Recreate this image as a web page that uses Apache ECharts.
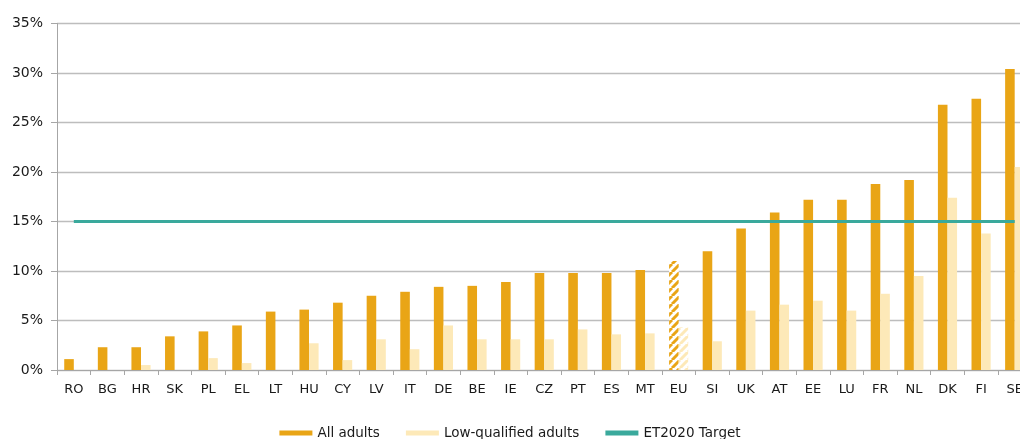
<!DOCTYPE html>
<html>
<head>
<meta charset="utf-8">
<script src="https://cdn.jsdelivr.net/npm/echarts@6/dist/echarts.min.js"></script>
<style>html,body{margin:0;padding:0;background:#fff;overflow:hidden}#c{width:1020px;height:439px}</style>
</head>
<body>
<div id="c"></div>
<script>
const categories = ['RO','BG','HR','SK','PL','EL','LT','HU','CY','LV','IT','DE','BE','IE','CZ','PT','ES','MT','EU','SI','UK','AT','EE','LU','FR','NL','DK','FI','SE'];
const allAdults = [1.1,2.3,2.3,3.4,3.9,4.5,5.9,6.1,6.8,7.5,7.9,8.4,8.5,8.9,9.8,9.8,9.8,10.1,11.0,12.0,14.3,15.9,17.2,17.2,18.8,19.2,26.8,27.4,30.4];
const lowQualified = [null,null,0.5,null,1.2,0.7,null,2.7,1.0,3.1,2.1,4.5,3.1,3.1,3.1,4.1,3.6,3.7,4.3,2.9,6.0,6.6,7.0,6.0,7.7,9.5,17.4,13.8,20.5];
const targetValue = 15;

const ORANGE = '#E9A516';
const LIGHT = '#FDE9B8';
const TEAL = '#3AA99C';

function hatch(color) {
  const s = 8;
  const c = document.createElement('canvas');
  c.width = s; c.height = s;
  const g = c.getContext('2d');
  g.fillStyle = '#fff';
  g.fillRect(0,0,s,s);
  g.strokeStyle = color;
  g.lineWidth = 3;
  g.beginPath();
  for (let k = -1; k <= 1; k++) {
    g.moveTo(k*s, s);
    g.lineTo(k*s + s, 0);
  }
  g.stroke();
  return {image: c, repeat: 'repeat'};
}

const euIdx = categories.indexOf('EU');
const allData = allAdults.map((v,i) => i === euIdx ? {value: v, itemStyle: {color: hatch(ORANGE)}} : v);
const lowData = lowQualified.map((v,i) => i === euIdx ? {value: v, itemStyle: {color: hatch(LIGHT)}} : v);
const targetData = categories.map(() => targetValue);

const FONT = 'DejaVu Sans';
const chart = echarts.init(document.getElementById('c'), null, {renderer: 'canvas'});
chart.setOption({
  animation: false,
  textStyle: {fontFamily: FONT},
  grid: {left: 57, width: 974.5, top: 23.5, height: 346.5, containLabel: false, outerBoundsMode: 'none'},
  legend: {
    bottom: -6,
    left: 'center',
    itemWidth: 33,
    itemHeight: 5,
    itemGap: 26,
    textStyle: {fontFamily: FONT, fontSize: 13.5, color: '#1a1a1a'},
    data: [
      {name: 'All adults', icon: 'rect'},
      {name: 'Low-qualified adults', icon: 'rect'},
      {name: 'ET2020 Target', icon: 'rect', itemStyle: {color: TEAL}}
    ]
  },
  xAxis: {
    type: 'category',
    data: categories,
    boundaryGap: true,
    axisLine: {lineStyle: {color: '#A6A6A6', width: 1}},
    axisTick: {show: true, length: 5, lineStyle: {color: '#A6A6A6'}},
    axisLabel: {fontFamily: FONT, fontSize: 13, color: '#1a1a1a', margin: 13, interval: 0}
  },
  yAxis: {
    type: 'value',
    min: 0, max: 35, interval: 5,
    axisLine: {show: true, lineStyle: {color: '#A6A6A6'}},
    axisTick: {show: true, length: 6, lineStyle: {color: '#A6A6A6'}},
    splitLine: {lineStyle: {color: '#BDBDBD', width: 1.3}},
    axisLabel: {fontFamily: FONT, fontSize: 14, color: '#1a1a1a', margin: 14, formatter: '{value}%'}
  },
  series: [
    {name: 'All adults', type: 'bar', data: allData, itemStyle: {color: ORANGE}, barGap: '0%', barCategoryGap: '43%'},
    {name: 'Low-qualified adults', type: 'bar', data: lowData, itemStyle: {color: LIGHT}},
    {name: 'ET2020 Target', type: 'line', data: targetData, symbol: 'none', lineStyle: {color: TEAL, width: 3}, itemStyle: {color: TEAL}, z: 5}
  ]
});
</script>
</body>
</html>
